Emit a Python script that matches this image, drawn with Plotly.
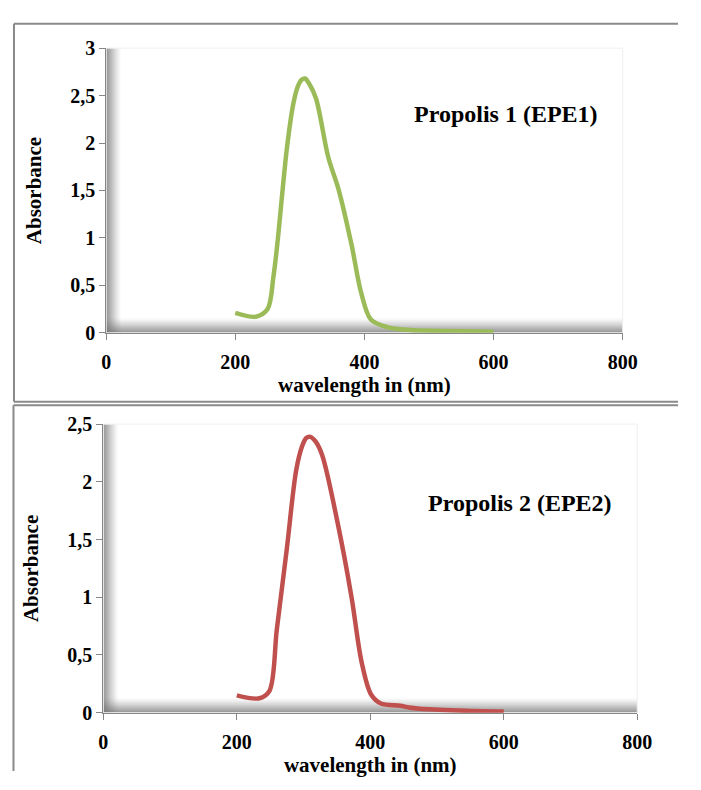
import plotly.graph_objects as go

# ---- data ----
wl_1 = [200, 232, 250, 259, 265, 280, 290, 297, 303, 308, 314, 325, 344, 360, 380, 395, 410, 435, 470, 520, 600]
abs_1 = [0.21, 0.17, 0.25, 0.59, 0.93, 1.95, 2.42, 2.6, 2.67, 2.68, 2.63, 2.47, 1.85, 1.51, 0.93, 0.42, 0.14, 0.06, 0.03, 0.02, 0.01]

wl_2 = [200, 234, 249, 260, 275, 289, 298, 304, 310, 318, 328, 352, 372, 387, 401, 416, 445, 458, 474, 532, 600]
abs_2 = [0.15, 0.125, 0.19, 0.72, 1.42, 2.1, 2.31, 2.38, 2.39, 2.35, 2.23, 1.62, 1.0, 0.44, 0.16, 0.08, 0.06, 0.045, 0.035, 0.02, 0.01]

x_ticks = [0, 200, 400, 600, 800]
y_ticks_1 = [0, 0.5, 1, 1.5, 2, 2.5, 3]
y_ticks_2 = [0, 0.5, 1, 1.5, 2, 2.5]

labels = ["Propolis 1 (EPE1)", "Propolis 2 (EPE2)"]
x_title = "wavelength in (nm)"
y_title = "Absorbance"

# page body has an 8px margin: the figure starts at (8, 8)
OFF = 8
W, H = 701 - 2 * OFF, 790 - 2 * OFF
def px(x): return (x - OFF) / W
def py(y): return 1 - (y - OFF) / H

FONT = "Liberation Serif, Times New Roman, serif"
GRAY = "#868686"

fig = go.Figure()
fig.add_trace(go.Scatter(x=wl_1, y=abs_1, mode="lines", line=dict(color="#9BBB59", width=4.5, shape="spline", smoothing=0.9),
                         xaxis="x", yaxis="y", showlegend=False))
fig.add_trace(go.Scatter(x=wl_2, y=abs_2, mode="lines", line=dict(color="#C0504D", width=4.5, shape="spline", smoothing=0.9),
                         xaxis="x2", yaxis="y2", showlegend=False))

tickfont = dict(family=FONT, size=20, color="black", weight="bold")
titlefont = dict(family=FONT, size=21, color="black", weight="bold")

def xaxis(domain, anchor):
    return dict(domain=domain, anchor=anchor, range=[0, 800], tickvals=x_ticks, showgrid=False, zeroline=False,
                showline=True, linecolor=GRAY, linewidth=1, ticks="outside", ticklen=6, tickcolor=GRAY,
                ticklabelstandoff=5,
                tickfont=tickfont, title=dict(text=x_title, font=titlefont, standoff=5))

def yaxis(domain, anchor, rng, tv):
    return dict(domain=domain, anchor=anchor, range=rng, tickvals=tv, showgrid=False, zeroline=False,
                showline=True, linecolor=GRAY, linewidth=1, ticks="outside", ticklen=6, tickcolor=GRAY,
                tickfont=tickfont, title=dict(text=y_title, font=titlefont, standoff=22))

shapes = []
# 3D-like wall and floor shading
for xr, yr in (("x", "y"), ("x2", "y2")):
    n = 15
    for i in range(n):
        op = 0.85 * (1 - i / n) ** 1.4
        shapes.append(dict(type="rect", xref=xr, yref=yr + " domain", xsizemode="pixel", xanchor=0,
                           x0=i, x1=i + 1, y0=0, y1=1, line=dict(width=0), fillcolor=f"rgba(110,110,110,{op:.3f})", layer="below"))
        shapes.append(dict(type="rect", xref=xr + " domain", yref=yr, ysizemode="pixel", yanchor=0,
                           y0=i, y1=i + 1, x0=0, x1=1, line=dict(width=0), fillcolor=f"rgba(110,110,110,{op:.3f})", layer="below"))
    shapes.append(dict(type="rect", xref=xr + " domain", yref=yr + " domain", x0=0, x1=1, y0=0, y1=1,
                       line=dict(color="#EFEFEF", width=1), layer="below"))

# panel borders
bc = dict(color="#8A8A8A", width=2)
shapes += [
    dict(type="line", xref="paper", yref="paper", x0=px(9), x1=1, y0=py(13), y1=py(13), line=bc),
    dict(type="line", xref="paper", yref="paper", x0=px(9), x1=px(9), y0=py(13), y1=py(402), line=bc),
    dict(type="line", xref="paper", yref="paper", x0=px(9), x1=1, y0=py(402), y1=py(402), line=bc),
    dict(type="line", xref="paper", yref="paper", x0=px(8.5), x1=1, y0=py(405.5), y1=py(405.5), line=bc),
    dict(type="line", xref="paper", yref="paper", x0=px(8.5), x1=px(8.5), y0=py(405.5), y1=0, line=bc),
]

annotations = [
    dict(text=labels[0], xref="paper", yref="paper", x=px(516), y=py(106), xanchor="center", yanchor="middle",
         showarrow=False, font=dict(family=FONT, size=24, color="black", weight="bold")),
    dict(text=labels[1], xref="paper", yref="paper", x=px(530), y=py(506), xanchor="center", yanchor="middle",
         showarrow=False, font=dict(family=FONT, size=24, color="black", weight="bold")),
]

fig.update_layout(
    width=W, height=H, margin=dict(l=0, r=0, t=0, b=0),
    paper_bgcolor="white", plot_bgcolor="white", separators=",.",
    xaxis=xaxis([px(104), px(636)], "y"),
    yaxis=yaxis([py(331), py(38)], "x", [0, 3], y_ticks_1),
    xaxis2=xaxis([px(101), px(651)], "y2"),
    yaxis2=yaxis([py(722), py(425)], "x2", [0, 2.5], y_ticks_2),
    shapes=shapes, annotations=annotations,
)

fig.write_html("out.html")
